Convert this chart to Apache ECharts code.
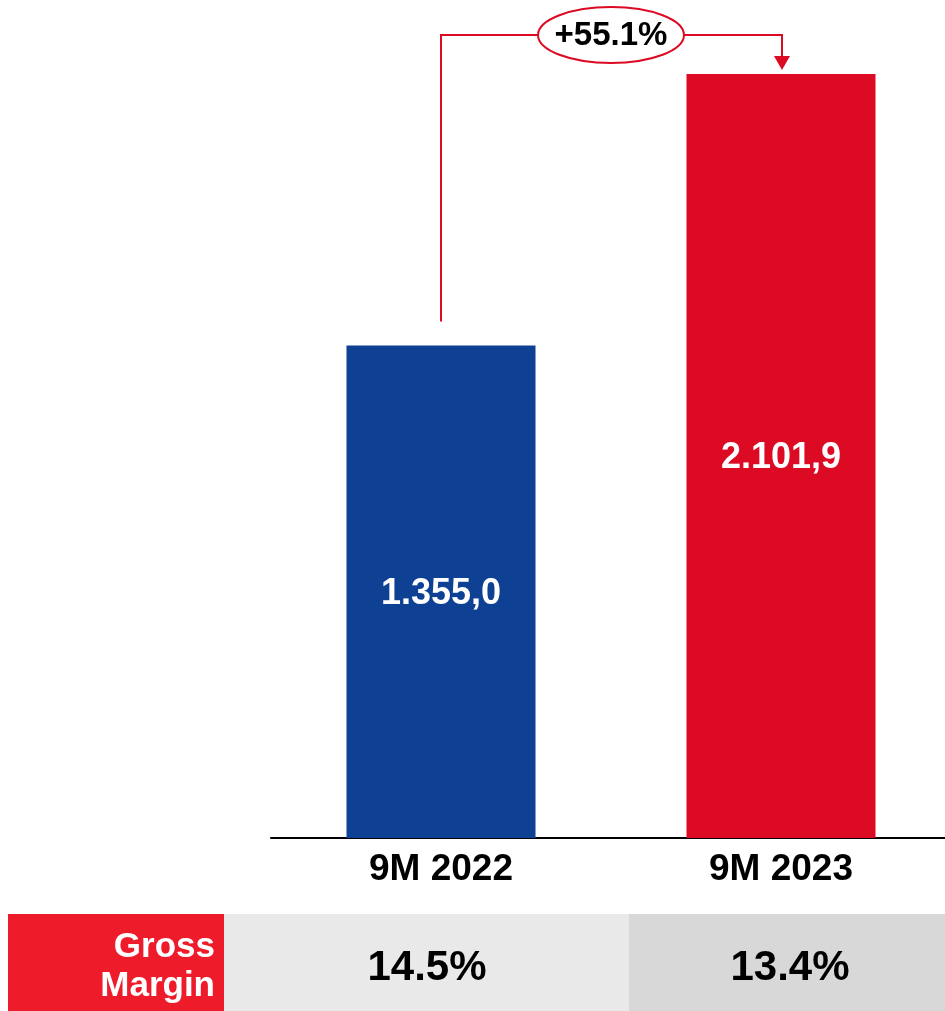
<!DOCTYPE html>
<html>
<head>
<meta charset="utf-8">
<script src="https://cdn.jsdelivr.net/npm/echarts@6/dist/echarts.min.js"></script>
<style>
  html, body { margin: 0; padding: 0; background: #fff; }
  #chart { width: 945px; height: 1011px; }
</style>
</head>
<body>
<div id="chart"></div>
<script>
// data
const categories = ["9M 2022", "9M 2023"];
const values = [1355.0, 2101.9];
const valueLabels = ["1.355,0", "2.101,9"];
const growthLabel = "+55.1%";
const marginLabel = "Gross\nMargin";
const margins = ["14.5%", "13.4%"];

const BLUE = "#0e4194";
const RED = "#dc0a23";
const FONT = "Arial, 'Liberation Sans', sans-serif";

const chartDom = document.getElementById("chart");
const myChart = echarts.init(chartDom);

myChart.setOption({
  animation: false,
  grid: {
    left: 271,
    top: 74,
    width: 680,
    bottom: 173,
    outerBoundsMode: "none",
  },
  xAxis: {
    type: "category",
    data: categories,
    axisLine: { lineStyle: { color: "#000", width: 2 } },
    axisTick: { show: false },
    axisLabel: {
      margin: 13,
      color: "#000",
      fontFamily: FONT,
      fontWeight: "bold",
      fontSize: 37,
    },
  },
  yAxis: {
    type: "value",
    min: 0,
    max: 2101.9,
    show: false,
    splitLine: { show: false },
  },
  series: [
    {
      type: "bar",
      barWidth: 189,
      data: values.map((v, i) => ({
        value: v,
        itemStyle: { color: i === 0 ? BLUE : RED },
      })),
      label: {
        show: true,
        position: "inside",
        offset: [0, 2],
        color: "#fff",
        fontFamily: FONT,
        fontWeight: "bold",
        fontSize: 36,
        formatter: (p) => valueLabels[p.dataIndex],
      },
    },
  ],
});

// annotation arrow + bottom table, placed from the chart's own scales
function drawExtras() {
  const p0 = myChart.convertToPixel({ seriesIndex: 0 }, [0, values[0]]);
  const p1 = myChart.convertToPixel({ seriesIndex: 0 }, [1, values[1]]);
  const lineY = 35;
  const ellCx = (p0[0] + p1[0]) / 2;
  const rx = 73, ry = 28;
  const lineColor = RED;

  const tableTop = 914;
  const tableBottom = 1011;
  const split = 629;

  myChart.setOption({
    graphic: [
      {
        type: "polyline",
        shape: { points: [[p0[0], p0[1] - 24], [p0[0], lineY], [ellCx - rx, lineY]] },
        style: { stroke: lineColor, lineWidth: 2, fill: null },
      },
      {
        type: "polyline",
        shape: { points: [[ellCx + rx, lineY], [p1[0] + 1, lineY], [p1[0] + 1, p1[1] - 16]] },
        style: { stroke: lineColor, lineWidth: 2, fill: null },
      },
      {
        type: "polygon",
        shape: { points: [[p1[0] - 7, p1[1] - 18], [p1[0] + 9, p1[1] - 18], [p1[0] + 1, p1[1] - 4]] },
        style: { fill: lineColor },
      },
      {
        type: "ellipse",
        shape: { cx: ellCx, cy: lineY, rx: rx, ry: ry },
        style: { fill: "#fff", stroke: lineColor, lineWidth: 2 },
      },
      {
        type: "text",
        x: ellCx, y: lineY + 1,
        style: {
          text: growthLabel, align: "center", verticalAlign: "middle",
          font: "bold 33px " + FONT, fill: "#000",
        },
      },
      // table
      {
        type: "rect",
        shape: { x: 8, y: tableTop, width: 216, height: tableBottom - tableTop },
        style: { fill: "#ee1c2b" },
      },
      {
        type: "rect",
        shape: { x: 224, y: tableTop, width: split - 224, height: tableBottom - tableTop },
        style: { fill: "#e9e9e9" },
      },
      {
        type: "rect",
        shape: { x: split, y: tableTop, width: 945 - split, height: tableBottom - tableTop },
        style: { fill: "#d8d8d8" },
      },
      {
        type: "text",
        x: 215, y: (tableTop + tableBottom) / 2 + 4,
        style: {
          text: marginLabel, align: "right", verticalAlign: "middle",
          font: "bold 35px " + FONT, fill: "#fff", lineHeight: 39,
        },
      },
      {
        type: "text",
        x: 427, y: 968,
        style: {
          text: margins[0], align: "center", verticalAlign: "middle",
          font: "bold 42px " + FONT, fill: "#000",
        },
      },
      {
        type: "text",
        x: 790, y: 968,
        style: {
          text: margins[1], align: "center", verticalAlign: "middle",
          font: "bold 42px " + FONT, fill: "#000",
        },
      },
    ],
  });
}
drawExtras();
</script>
</body>
</html>
